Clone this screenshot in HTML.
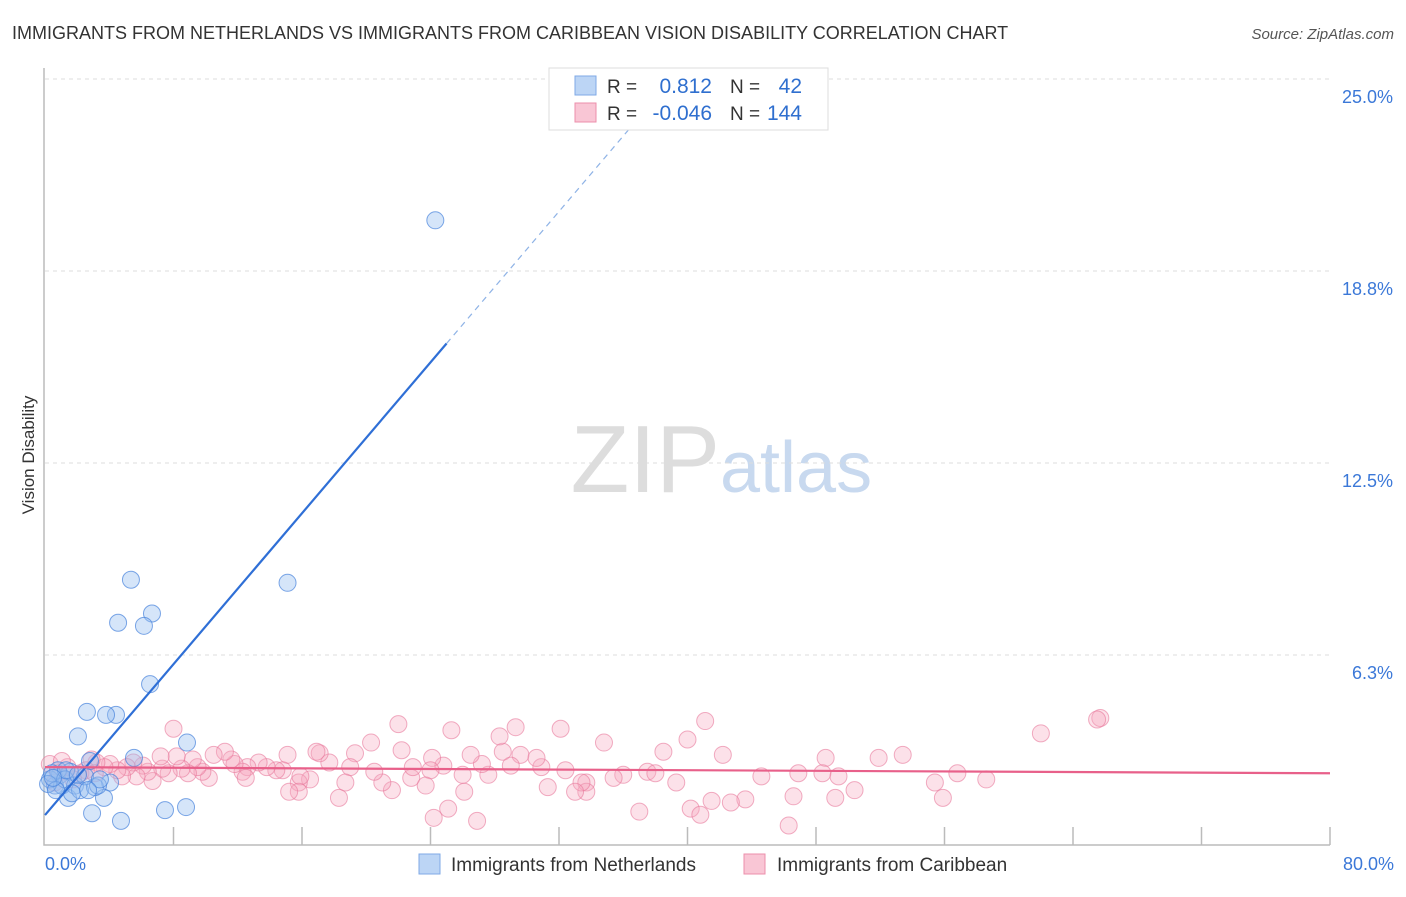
<!DOCTYPE html>
<html><head><meta charset="utf-8"><style>
body{margin:0;background:#fff;font-family:"Liberation Sans",sans-serif}
svg text{font-family:"Liberation Sans",sans-serif}
</style></head><body>
<svg id="chart" width="1406" height="892" xmlns="http://www.w3.org/2000/svg">
<text x="12" y="39" font-size="18" fill="#333">IMMIGRANTS FROM NETHERLANDS VS IMMIGRANTS FROM CARIBBEAN VISION DISABILITY CORRELATION CHART</text>
<text x="1394" y="39" font-size="15" fill="#555" font-style="italic" text-anchor="end">Source: ZipAtlas.com</text>
<text x="720" y="492" font-size="96" fill="#ddd" text-anchor="end" font-family="Liberation Serif">ZIP</text>
<text x="720" y="492" font-size="72" fill="#c8d9ef">atlas</text>
<text transform="translate(34,455) rotate(-90)" font-size="17" fill="#333" text-anchor="middle">Vision Disability</text>
<g id="grid"></g><g id="axes"></g><g id="pts"></g><g id="trend"></g>
<g>
<rect x="549" y="68" width="279" height="62" fill="#fff" stroke="#ddd"/>
<rect x="575" y="76" width="21" height="19" fill="#bcd5f5" stroke="#7fa9e6"/>
<rect x="575" y="103" width="21" height="19" fill="#f9c6d5" stroke="#ec8fab"/>
<text x="607" y="93" font-size="19" fill="#333">R =</text><text x="712" y="93" font-size="21" fill="#2f6fcf" text-anchor="end">0.812</text>
<text x="730" y="93" font-size="19" fill="#333">N =</text><text x="802" y="93" font-size="21" fill="#2f6fcf" text-anchor="end">42</text>
<text x="607" y="120" font-size="19" fill="#333">R =</text><text x="712" y="120" font-size="21" fill="#2f6fcf" text-anchor="end">-0.046</text>
<text x="730" y="120" font-size="19" fill="#333">N =</text><text x="802" y="120" font-size="21" fill="#2f6fcf" text-anchor="end">144</text>
</g>
<g>
<rect x="419" y="854" width="21" height="20" fill="#bcd5f5" stroke="#7fa9e6"/>
<text x="451" y="871" font-size="19" fill="#333">Immigrants from Netherlands</text>
<rect x="744" y="854" width="21" height="20" fill="#f9c6d5" stroke="#ec8fab"/>
<text x="777" y="871" font-size="19" fill="#333">Immigrants from Caribbean</text>
</g>
</svg>
<script>
const yTicks=[6.25,12.5,18.75,25];
const yTickLabels=["6.3%","12.5%","18.8%","25.0%"];
const xTickLabels=["0.0%","80.0%"];
const blueX=[24.3,15.1,5.35,6.66,4.55,6.16,6.54,2.61,4.42,3.8,2.05,8.84,5.54,2.8,4.05,3.67,2.93,4.73,7.47,8.78,1.43,0.62,0.93,1.56,0.31,1.06,1.87,2.18,3.11,3.3,0.81,0.44,1.25,2.49,1.68,0.19,0.68,1.31,2.05,3.42,2.68,0.5];
const blueY=[20.4,8.6,8.7,7.6,7.3,7.2,5.3,4.4,4.3,4.3,3.6,3.4,2.9,2.8,2.1,1.6,1.1,0.85,1.2,1.3,1.6,2.0,2.35,2.45,2.2,2.0,2.0,1.85,1.95,2.0,2.5,2.4,2.2,2.3,1.75,2.05,1.85,2.5,2.35,2.2,1.85,2.25];
const pinkX=[65.7,65.5,62,41.1,29.3,22,8,25.3,32.1,34.8,40,38.5,42.2,51.9,53.4,48.6,46.9,44.6,48.4,49.4,56.8,58.6,55.4,50.4,49.2,46.6,55.9,43.6,42.7,41.5,40.2,40.8,46.3,37,39.3,37.5,38,36,35.4,33.7,33.7,33.4,32.4,31.3,30.9,29.6,30.6,28.5,28.3,29,27.6,27.2,26.5,26.1,25.1,24.2,26.9,26,24.8,24.1,24,22.8,22.9,22.2,21.6,21,20.5,20.3,19.3,19,18.7,18.3,17.7,17.1,16.9,16.5,15.8,15.9,15.8,15.1,14.8,14.4,13.8,13.3,12.6,12.3,12.5,11.8,11.6,11.2,10.5,10.2,9.8,9.5,9.2,8.9,8.5,8.2,7.7,7.3,7.2,6.7,6.4,6.1,5.7,5.5,5.1,4.8,4.5,4.05,3.7,3.2,2.9,2.55,2.2,1.75,1.4,0.8,0.3,0.6,1.05,3.1,15.2,23.7,33];
const pinkY=[4.2,4.15,3.7,4.1,3.9,4.0,3.85,3.8,3.85,3.4,3.5,3.1,3.0,2.9,3.0,2.9,2.4,2.3,2.4,2.3,2.4,2.2,2.1,1.85,1.6,1.65,1.6,1.55,1.45,1.5,1.25,1.05,0.7,1.15,2.1,2.45,2.4,2.35,2.25,2.1,1.8,2.1,2.5,1.95,2.6,3.0,2.9,3.1,3.6,2.65,2.35,2.7,3.0,1.8,1.25,0.95,0.85,2.35,2.65,2.9,2.5,2.25,2.6,3.15,1.85,2.1,2.45,3.4,3.05,2.6,2.1,1.6,2.75,3.05,3.1,2.2,2.1,2.3,1.8,3.0,2.5,2.5,2.6,2.75,2.6,2.45,2.25,2.7,2.85,3.1,3.0,2.25,2.45,2.6,2.85,2.4,2.55,2.95,2.4,2.55,2.95,2.15,2.45,2.65,2.3,2.75,2.6,2.3,2.5,2.7,2.6,2.75,2.85,2.5,2.4,2.2,2.6,2.4,2.7,2.1,2.8,2.4,1.8,2.0,1.8];
const blueTrend=[1.04,0.614];
const pinkTrend=[2.6,-0.0025];
const X0=45,X1=1330,Y0=847,PXY=192/6.25;
const xs=v=>X0+(v/80)*(X1-X0);
const ys=v=>Y0-v*PXY;
const NS="http://www.w3.org/2000/svg";
function mk(tag,attrs,parent){const e=document.createElementNS(NS,tag);for(const k in attrs)e.setAttribute(k,attrs[k]);document.getElementById(parent).appendChild(e);return e;}
yTicks.forEach((t,i)=>{
 const g=mk('line',{x1:45,x2:1330,y1:ys(t),y2:ys(t),stroke:'#ddd','stroke-dasharray':'4,4'},'grid');
 
 
 const l=mk('text',{x:1393,y:ys(t)+24,'font-size':18,fill:'#3b78d8','text-anchor':'end'},'grid');
 l.textContent=yTickLabels[i];
 
 
});
const ax=mk('path',{d:'M44 68V845H1330',fill:'none',stroke:'#bbb','stroke-width':1.5},'axes');


for(let i=1;i<=10;i++){const x=45+i*128.5;
 const t=mk('line',{x1:x,x2:x,y1:827,y2:845,stroke:'#bbb','stroke-width':1.5},'axes');
 
 }
[[0,'start',45],[80,'end',1394]].forEach((d,i)=>{
 const l=mk('text',{x:d[2],y:870,'font-size':18,fill:'#3b78d8','text-anchor':d[1]},'axes');
 l.textContent=xTickLabels[i];
 
 });
pinkX.forEach((x,i)=>{
 const c=mk('circle',{cx:xs(x),cy:ys(pinkY[i]),r:8.5,fill:'rgba(246,168,192,0.35)',stroke:'rgba(232,120,155,0.6)','stroke-width':1},'pts');
 
 });
blueX.forEach((x,i)=>{
 const c=mk('circle',{cx:xs(x),cy:ys(blueY[i]),r:8.5,fill:'rgba(150,190,240,0.4)',stroke:'rgba(70,130,220,0.7)','stroke-width':1},'pts');
 
 });
const b1=mk('line',{x1:xs(0),y1:ys(blueTrend[0]),x2:xs(25),y2:ys(blueTrend[0]+25*blueTrend[1]),stroke:'#2f6fd6','stroke-width':2.2},'trend');


const b2=mk('line',{x1:xs(25),y1:ys(blueTrend[0]+25*blueTrend[1]),x2:xs(39),y2:ys(blueTrend[0]+39*blueTrend[1]),stroke:'#8fb3e6','stroke-width':1.2,'stroke-dasharray':'6,5'},'trend');


const p1=mk('line',{x1:xs(0),y1:ys(pinkTrend[0]),x2:xs(80),y2:ys(pinkTrend[0]+80*pinkTrend[1]),stroke:'#e8608a','stroke-width':2.2},'trend');


</script>
</body></html>
